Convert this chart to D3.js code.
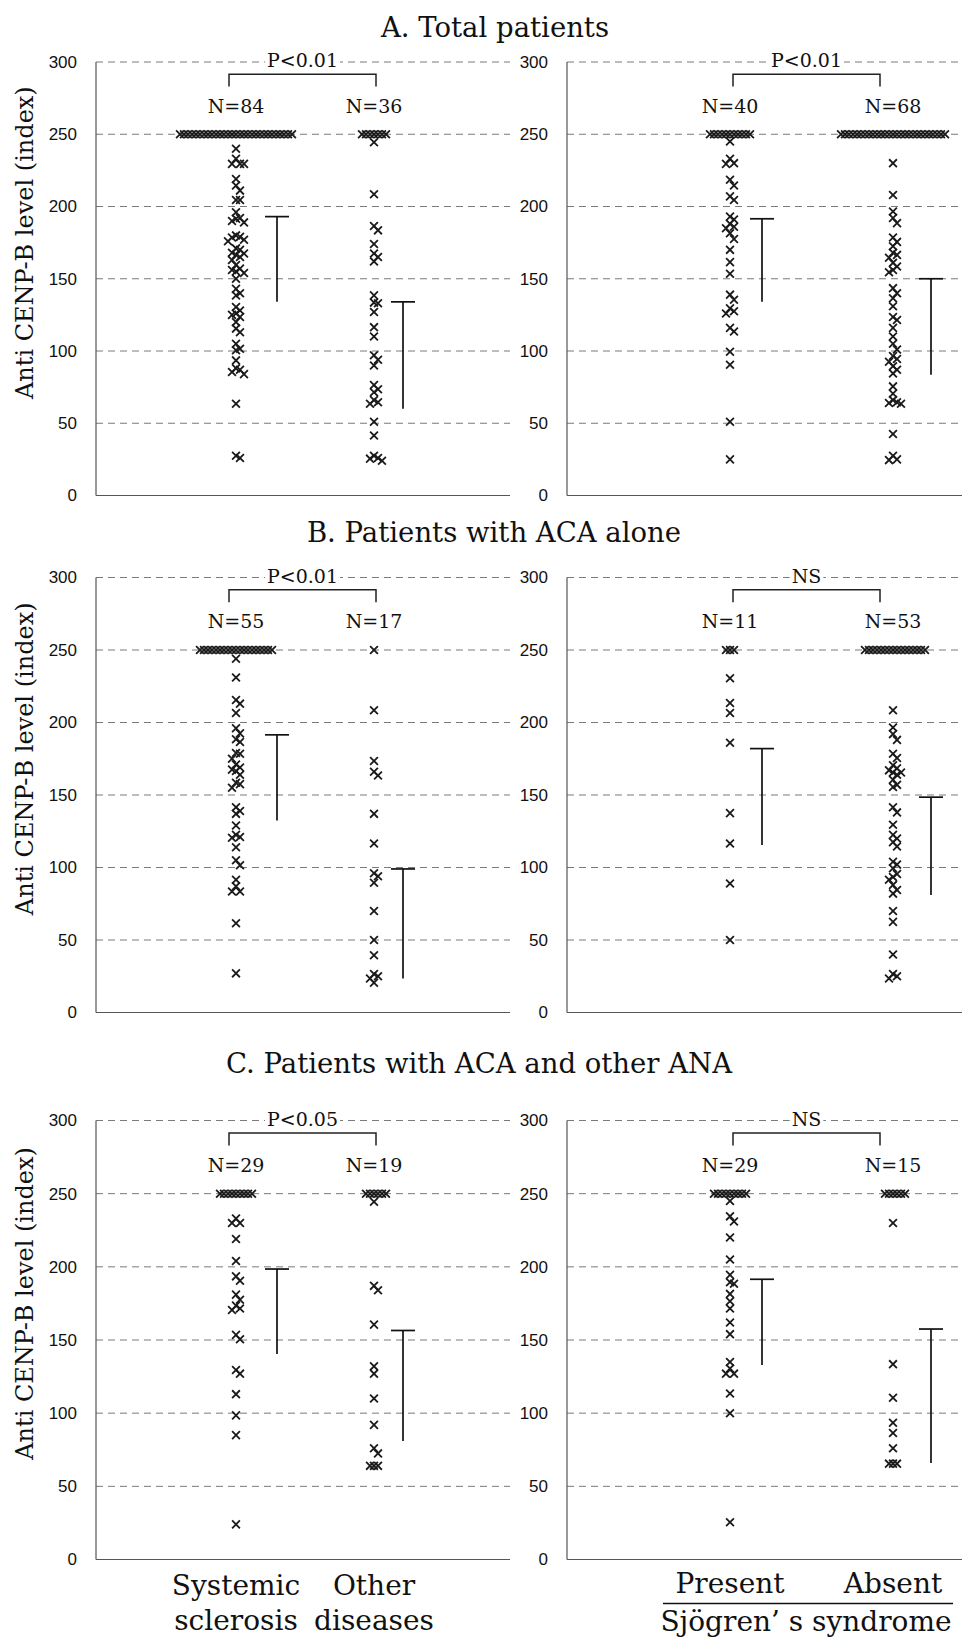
<!DOCTYPE html>
<html>
<head>
<meta charset="utf-8">
<script src="https://cdnjs.cloudflare.com/ajax/libs/d3/7.8.5/d3.min.js"></script>
<style>
    body { margin: 0; background: #fff; }
    svg text { fill: #111; }
</style>
</head>
<body>
<div id="chart"></div>
<script>
// Titles and labels
var panelTitles = ["A. Total patients", "B. Patients with ACA alone", "C. Patients with ACA and other ANA"];
var diseaseGroups = ["Systemic sclerosis", "Other diseases"];
var sjogrenGroups = ["Present", "Absent"];
var sjogrenTitle = "Sj\u00f6gren\u2019 s syndrome";
var pLabels = [["P<0.01", "P<0.01"], ["P<0.01", "NS"], ["P<0.05", "NS"]];
var yTicks = [0, 50, 100, 150, 200, 250, 300];
var yLabel = "Anti CENP-B level (index)";

// A. Total patients
var totalSsc = [250, 250, 250, 250, 250, 250, 250, 250, 250, 250, 250, 250, 250, 250, 250, 250, 250, 250, 250, 250,
    250, 250, 250, 250, 250, 250, 250, 250, 250,
    240, 233, 229.5, 229.5, 229.5, 219, 214.5, 211, 204.5, 204.5, 196, 192, 191.5, 190, 189, 180, 179, 178.5, 177, 176,
    171, 170, 167.5, 168, 166.5, 165, 163, 159.5, 157, 156, 155, 154, 150, 143, 140, 138.5, 130.5, 128, 125, 123.5, 126,
    120, 115.5, 113, 105, 101.5, 100.5, 93.5, 88, 87, 85.5, 84, 63.5, 27.5, 26];
var totalOther = [250, 250, 250, 250, 250, 250, 250,
    244.5, 208.5, 186.5, 183.5, 174, 167.5, 165, 162, 138.5, 133.5, 133, 127, 116.5, 110, 97, 94, 90, 76.5, 73.5, 71.5,
    66, 64.5, 63.5, 51, 41.5, 25.5, 24, 26, 27.5];
var totalSjsPresent = [250, 250, 250, 250, 250, 250, 250, 250, 250, 250, 250,
    245, 233, 230, 229.5, 218.5, 214.5, 207, 204.5, 193, 191, 188, 186, 185, 181.5, 177.5, 170, 161.5, 153.5, 139, 135.5,
    129.5, 127.5, 126, 116, 113.5, 99.5, 90.5, 51, 25];
var totalSjsAbsent = [250, 250, 250, 250, 250, 250, 250, 250, 250, 250, 250, 250, 250, 250, 250, 250, 250, 250, 250, 250,
    250, 250, 250, 250, 250, 250, 250,
    230, 208, 196.5, 192, 188.5, 178.5, 175.5, 172.5, 168, 166.5, 164.5, 161, 158.5, 156, 154.5, 143.5, 140, 136.5, 131,
    123.5, 121.5, 116, 110, 105, 101, 96.5, 94.5, 92.5, 89.5, 87, 84.5, 75.5, 70.5, 66, 64, 64.5, 63.5, 42.5, 27.5, 25, 24.5];

// B. Patients with ACA alone
var acaSsc = [250, 250, 250, 250, 250, 250, 250, 250, 250, 250, 250, 250, 250, 250, 250, 250, 250, 250, 250,
    244, 231, 215.5, 213, 206.5, 196, 192.5, 188.5, 186.5, 178.5, 179, 175, 171, 167.5, 169, 164, 166.5, 158.5, 157.5, 155,
    141.5, 139, 137, 129, 122.5, 121, 120.5, 114, 105, 101.5, 91.5, 87, 83.5, 83.5, 61.5, 27];
var acaOther = [250, 208.5, 173.5, 166, 163.5, 137, 116.5, 96, 94, 89.5, 70, 50, 39.5, 25, 23.5, 26.5, 20.5];
var acaSjsPresent = [250, 250, 250, 230.5, 213.5, 206.5, 186, 137.5, 116.5, 89, 50];
var acaSjsAbsent = [250, 250, 250, 250, 250, 250, 250, 250, 250, 250, 250, 250, 250, 250, 250, 250,
    208.5, 196.5, 192, 188, 178.5, 175.5, 170.5, 168.5, 167, 165.5, 165.5, 164, 160.5, 157, 155.5, 141.5, 138, 129.5,
    122.5, 120, 117.5, 114.5, 104, 102, 99.5, 95.5, 93.5, 91.5, 88, 84.5, 82, 70, 62.5, 40, 26.5, 25, 23.5];

// C. Patients with ACA and other ANA
var anaSsc = [250, 250, 250, 250, 250, 250, 250, 250, 250,
    233, 230, 230, 219, 204, 193.5, 190.5, 181, 177.5, 173.5, 171.5, 170.5, 153.5, 150.5, 129.5, 127, 113, 98.5, 85, 24];
var anaOther = [250, 250, 250, 250, 250, 250,
    244.5, 187, 184, 160.5, 132, 127, 110, 92, 76, 72.5, 64, 64, 64];
var anaSjsPresent = [250, 250, 250, 250, 250, 250, 250, 250, 250,
    245, 234.5, 231, 220, 205, 194.5, 189.5, 188.5, 181.5, 176.5, 171.5, 162, 154, 135, 130.5, 127, 127, 113.5, 100, 25.5];
var anaSjsAbsent = [250, 250, 250, 250, 250, 250, 230, 133.5, 110.5, 93.5, 86.5, 76, 65.5, 65.5, 65.5];

// T bars (top and bottom of each bar), panel order A-left, A-right, B-left, B-right, C-left, C-right
var barTops = [[193, 134], [191.5, 150], [191.5, 99], [182, 148.5], [198.5, 156.5], [191.5, 157.5]];
var barBottoms = [[134, 60], [134, 83.5], [132.5, 23.5], [115.5, 81], [140.5, 81], [133, 66]];

var panelValues = [
    [totalSsc, totalOther], [totalSjsPresent, totalSjsAbsent],
    [acaSsc, acaOther], [acaSjsPresent, acaSjsAbsent],
    [anaSsc, anaOther], [anaSjsPresent, anaSjsAbsent]
];

// Layout
var rows = [
    {top: 62, bottom: 495.5, titleX: 495, titleY: 37},
    {top: 577.5, bottom: 1012.5, titleX: 494, titleY: 542},
    {top: 1120.5, bottom: 1559.5, titleX: 479, titleY: 1073}
];
var cols = [
    {x0: 96, x1: 510, g1: 236, g2: 374, barShift: [41, 29], bracketInset: [-7, 2], cats: diseaseGroups},
    {x0: 567, x1: 962, g1: 730, g2: 893, barShift: [32, 38], bracketInset: [3, -13], cats: sjogrenGroups}
];

var serif = "'DejaVu Serif', serif";
var sans = "'Liberation Sans', Arial, sans-serif";

var svg = d3.select("#chart").append("svg").attr("width", 967).attr("height", 1637);

// dodge points of close value sideways so that they do not sit on each other
function dodge(values, y, step, reach) {
    var pts = values.map(function (v) { return {v: v, y: y(v)}; });
    pts.sort(function (a, b) { return b.v - a.v; });
    var placed = [];
    pts.forEach(function (p) {
        for (var k = 0; ; k++) {
            var off = (k % 2 ? 1 : -1) * Math.ceil(k / 2) * step;
            var hit = placed.some(function (q) {
                return Math.abs(q.dx - off) < step - 0.01 && Math.abs(q.y - p.y) < reach;
            });
            if (!hit) { p.dx = off; break; }
        }
        placed.push(p);
    });
    return pts;
}

var cross = "M-3.9,-3.9L3.9,3.9M-3.9,3.9L3.9,-3.9";

rows.forEach(function (row, r) {
    svg.append("text").text(panelTitles[r])
        .attr("x", row.titleX).attr("y", row.titleY)
        .attr("text-anchor", "middle")
        .style("font-family", serif).style("font-size", "27.5px");

    cols.forEach(function (col, c) {
        var idx = r * 2 + c;
        var y = d3.scaleLinear().domain([0, 300]).range([row.bottom, row.top]);
        var x = d3.scalePoint().domain(col.cats).range([col.g1, col.g2]);
        var g = svg.append("g");

        // dashed grid
        g.selectAll("line.grid").data(yTicks.filter(function (t) { return t > 0; })).enter()
            .append("line")
            .attr("x1", col.x0).attr("x2", col.x1)
            .attr("y1", function (d) { return y(d); }).attr("y2", function (d) { return y(d); })
            .attr("stroke", "#7a7a7a").attr("stroke-width", 1).attr("stroke-dasharray", "7,5");

        // axis with tick labels
        var ax = g.append("g").attr("transform", "translate(" + col.x0 + ",0)")
            .call(d3.axisLeft(y).tickValues(yTicks).tickSize(0).tickPadding(19));
        ax.select(".domain").remove();
        ax.selectAll("text").style("font-family", sans).style("font-size", "17px").attr("fill", "#1a1a1a");

        g.append("line").attr("x1", col.x0).attr("x2", col.x0).attr("y1", y(300)).attr("y2", y(0))
            .attr("stroke", "#555").attr("stroke-width", 1.2);
        g.append("line").attr("x1", col.x0).attr("x2", col.x1).attr("y1", y(0)).attr("y2", y(0))
            .attr("stroke", "#555").attr("stroke-width", 1.2);

        // y label
        if (c === 0) {
            g.append("text").text(yLabel)
                .attr("transform", "translate(33," + y(175) + ") rotate(-90)")
                .attr("text-anchor", "middle")
                .style("font-family", serif).style("font-size", "24px");
        }

        // significance bracket
        var bx1 = x(col.cats[0]) + col.bracketInset[0];
        var bx2 = x(col.cats[1]) + col.bracketInset[1];
        g.append("path")
            .attr("d", "M" + bx1 + "," + y(283) + "V" + y(291.5) + "H" + bx2 + "V" + y(283))
            .attr("fill", "none").attr("stroke", "#222").attr("stroke-width", 1.5);
        var pBack = g.append("rect").attr("fill", "#fff");
        var pText = g.append("text").text(pLabels[r][c])
            .attr("x", (bx1 + bx2) / 2).attr("y", y(300) + 5)
            .attr("text-anchor", "middle")
            .style("font-family", serif).style("font-size", "19px");
        var bb = pText.node().getBBox();
        pBack.attr("x", bb.x - 2).attr("y", y(300) - 2).attr("width", bb.width + 4).attr("height", 4);

        col.cats.forEach(function (cat, k) {
            var values = panelValues[idx][k];
            var cx = x(cat);

            g.append("text").text("N=" + values.length)
                .attr("x", cx).attr("y", y(265))
                .attr("text-anchor", "middle")
                .style("font-family", serif).style("font-size", "19px");

            g.selectAll("path.pt" + k).data(dodge(values, y, 4, 6.5)).enter()
                .append("path")
                .attr("class", "pt" + k)
                .attr("d", cross)
                .attr("transform", function (d) { return "translate(" + (cx + d.dx) + "," + d.y + ")"; })
                .attr("fill", "none").attr("stroke", "#1a1a1a").attr("stroke-width", 1.8);

            // T bar
            var bxm = cx + col.barShift[k];
            g.append("line").attr("x1", bxm).attr("x2", bxm)
                .attr("y1", y(barTops[idx][k])).attr("y2", y(barBottoms[idx][k]))
                .attr("stroke", "#111").attr("stroke-width", 1.7);
            g.append("line").attr("x1", bxm - 12).attr("x2", bxm + 12)
                .attr("y1", y(barTops[idx][k])).attr("y2", y(barTops[idx][k]))
                .attr("stroke", "#111").attr("stroke-width", 1.7);
        });

        // bottom category labels
        if (r === 2) {
            if (c === 0) {
                var lines = [["Systemic", "sclerosis"], ["Other", "diseases"]];
                col.cats.forEach(function (cat, k) {
                    lines[k].forEach(function (t, j) {
                        g.append("text").text(t)
                            .attr("x", x(cat)).attr("y", row.bottom + 35.5 + j * 35)
                            .attr("text-anchor", "middle")
                            .style("font-family", serif).style("font-size", "28px");
                    });
                });
            } else {
                col.cats.forEach(function (cat) {
                    g.append("text").text(cat)
                        .attr("x", x(cat)).attr("y", row.bottom + 33.5)
                        .attr("text-anchor", "middle")
                        .style("font-family", serif).style("font-size", "28px");
                });
                g.append("line").attr("x1", 663).attr("x2", 953)
                    .attr("y1", row.bottom + 44).attr("y2", row.bottom + 44)
                    .attr("stroke", "#111").attr("stroke-width", 1.5);
                g.append("text").text(sjogrenTitle)
                    .attr("x", 806).attr("y", row.bottom + 71.5)
                    .attr("text-anchor", "middle")
                    .style("font-family", serif).style("font-size", "28px");
            }
        }
    });
});
</script>
</body>
</html>
